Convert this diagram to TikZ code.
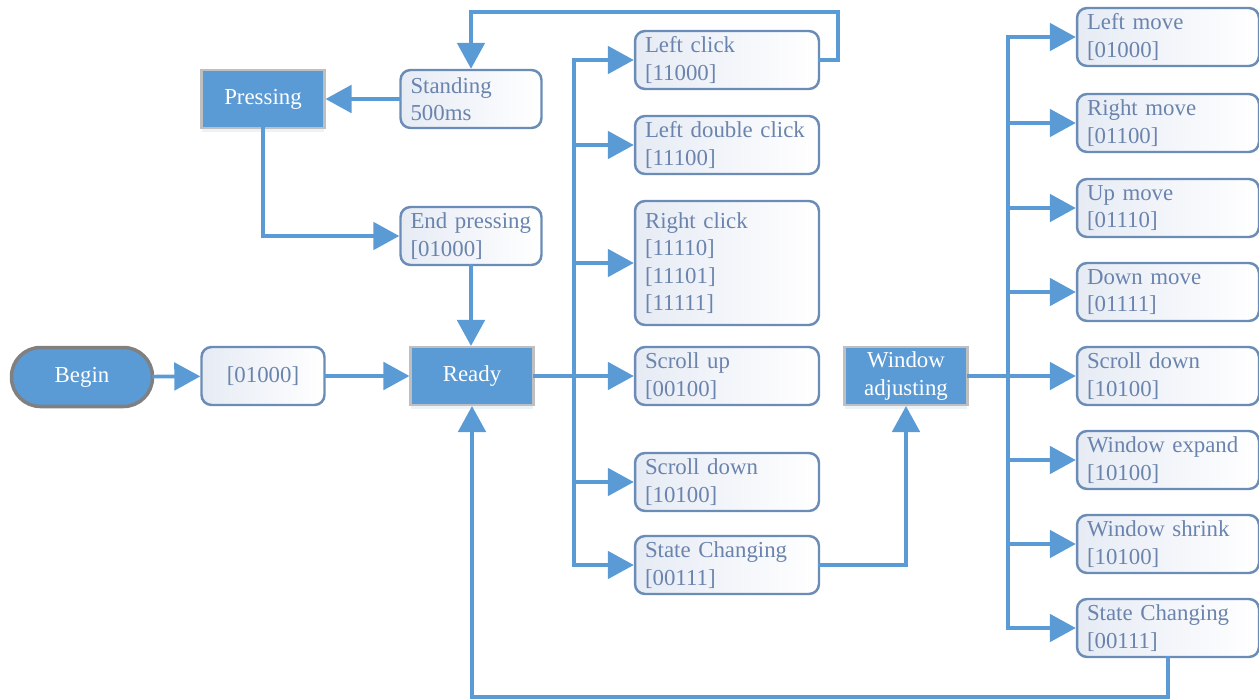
\documentclass[tikz,border=0pt]{standalone}
\usepackage{fontspec}
\setmainfont{Liberation Serif}
\usetikzlibrary{arrows.meta,shadows}
\definecolor{lineblue}{HTML}{5B9BD5}
\definecolor{edgeblue}{HTML}{6A8CB6}
\definecolor{textblue}{HTML}{6A84AE}
\definecolor{paleblue}{HTML}{E6EBF4}
\begin{document}
\begin{tikzpicture}[x=0.02cm,y=-0.02cm,
 statebox/.style={draw=edgeblue,line width=1.4pt,rounded corners=0.2cm,shading angle=45,left color=paleblue,right color=white,
  text=textblue,align=left,inner xsep=0.2cm,inner ysep=0pt,text width=#1,minimum height=1.16cm,
  font=\fontsize{13}{15.7}\selectfont},
 actbox/.style={draw=black!25,line width=1.2pt,fill=lineblue,text=white,align=center,inner sep=0pt,
  minimum width=2.46cm,minimum height=1.16cm,font=\fontsize{13}{15.7}\selectfont,
  drop shadow={shadow xshift=0pt,shadow yshift=-2pt,opacity=0.25,fill=lineblue!50}},
 flow/.style={draw=lineblue,line width=2.1pt,line cap=rect,-{Triangle[length=0.52cm,width=0.55cm]}},
 trunk/.style={draw=lineblue,line width=2.1pt,line cap=rect}]
 \useasboundingbox (0,0) rectangle (1259,700);
 % start row
 \node[draw=black!50,line width=2pt,fill=lineblue,text=white,rounded corners=0.58cm,minimum width=2.82cm,
  minimum height=1.18cm,inner sep=0pt,font=\fontsize{13}{15.7}\selectfont] (begin) at (82,377) {Begin};
 \node[statebox=2.06cm,align=center] (code) at (263,376) {[01000]};
 \node[actbox] (ready) at (472,376) {Ready};
 % pressing loop
 \node[actbox] (pressing) at (263,99) {Pressing};
 \node[statebox=2.42cm] (standing) at (471,99) {Standing\\500ms};
 \node[statebox=2.42cm] (endpress) at (471,236) {End pressing\\{[01000]}};
 % mouse actions
 \node[statebox=3.28cm] (lclick) at (727,60) {Left click\\{[11000]}};
 \node[statebox=3.28cm] (ldclick) at (727,145) {Left double click\\{[11100]}};
 \node[statebox=3.28cm,minimum height=2.48cm] (rclick) at (727,263) {Right click\\{[11110]}\\{[11101]}\\{[11111]}};
 \node[statebox=3.28cm] (sup) at (727,376) {Scroll up\\{[00100]}};
 \node[statebox=3.28cm] (sdown) at (727,482) {Scroll down\\{[10100]}};
 \node[statebox=3.28cm] (schange) at (727,565) {State Changing\\{[00111]}};
 % window mode
 \node[actbox] (winadj) at (906,376) {Window\\adjusting};
 \node[statebox=3.24cm] (lmove) at (1168,37) {Left move\\{[01000]}};
 \node[statebox=3.24cm] (rmove) at (1168,123) {Right move\\{[01100]}};
 \node[statebox=3.24cm] (umove) at (1168,208) {Up move\\{[01110]}};
 \node[statebox=3.24cm] (dmove) at (1168,292) {Down move\\{[01111]}};
 \node[statebox=3.24cm] (wsdown) at (1168,376) {Scroll down\\{[10100]}};
 \node[statebox=3.24cm] (wexpand) at (1168,460) {Window expand\\{[10100]}};
 \node[statebox=3.24cm] (wshrink) at (1168,544) {Window shrink\\{[10100]}};
 \node[statebox=3.24cm] (wchange) at (1168,628) {State Changing\\{[00111]}};
 \coordinate (busL) at (574,376);
 \coordinate (busR) at (1008,376);
 \coordinate (loopTop) at (838,12);
 \coordinate (loopBot) at (1168,697);
 % connectors
 \draw[flow] (begin) -- (code);
 \draw[flow] (code) -- (ready);
 \draw[flow] (standing) -- (pressing);
 \draw[flow] (pressing.south) |- (endpress.west);
 \draw[flow] (endpress.south) -- (endpress.south |- ready.north);
 \draw[flow] (lclick.east) -| (loopTop) -| (standing.north);
 \draw[trunk] (ready.east) -- (busL);
 \draw[trunk] (busL |- lclick.west) -- (busL |- schange.west);
 \draw[flow] (busL |- lclick.west) -- (lclick.west);
 \draw[flow] (busL |- ldclick.west) -- (ldclick.west);
 \draw[flow] (busL |- rclick.west) -- (rclick.west);
 \draw[flow] (busL |- sup.west) -- (sup.west);
 \draw[flow] (busL |- sdown.west) -- (sdown.west);
 \draw[flow] (busL |- schange.west) -- (schange.west);
 \draw[flow] (schange.east) -| (winadj.south);
 \draw[trunk] (winadj.east) -- (busR |- winadj.east);
 \draw[trunk] (busR |- lmove.west) -- (busR |- wchange.west);
 \draw[flow] (busR |- lmove.west) -- (lmove.west);
 \draw[flow] (busR |- rmove.west) -- (rmove.west);
 \draw[flow] (busR |- umove.west) -- (umove.west);
 \draw[flow] (busR |- dmove.west) -- (dmove.west);
 \draw[flow] (busR |- wsdown.west) -- (wsdown.west);
 \draw[flow] (busR |- wexpand.west) -- (wexpand.west);
 \draw[flow] (busR |- wshrink.west) -- (wshrink.west);
 \draw[flow] (busR |- wchange.west) -- (wchange.west);
 \draw[flow] (wchange.south) -- (loopBot) -| (ready.south);
\end{tikzpicture}
\end{document}
